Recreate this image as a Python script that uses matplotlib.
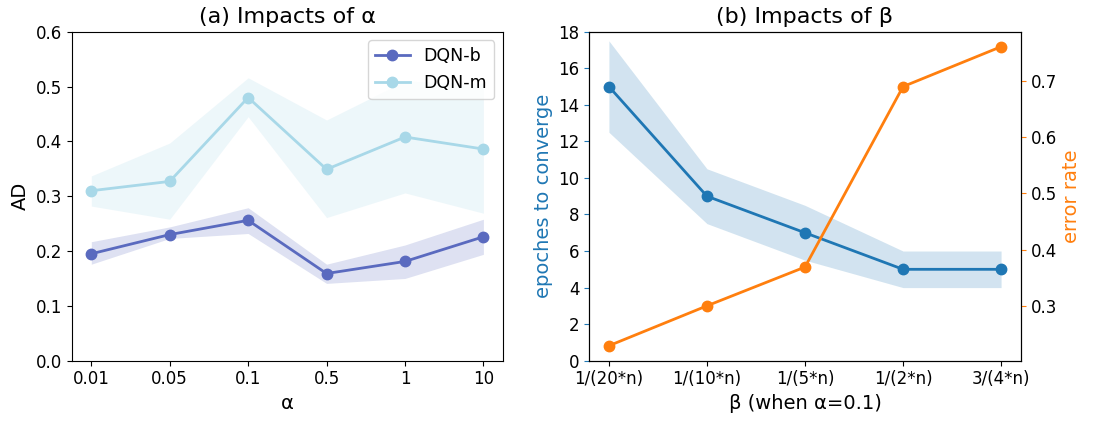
import matplotlib
matplotlib.use('Agg')
import matplotlib.pyplot as plt
import numpy as np

# (a) AD for different alpha
alpha_labels = ['0.01', '0.05', '0.1', '0.5', '1', '10']
dqn_b = [0.195, 0.230, 0.256, 0.159, 0.181, 0.226]
dqn_b_low = [0.176, 0.223, 0.232, 0.141, 0.150, 0.194]
dqn_b_high = [0.217, 0.244, 0.279, 0.176, 0.211, 0.258]
dqn_m = [0.310, 0.327, 0.480, 0.349, 0.408, 0.386]
dqn_m_low = [0.282, 0.258, 0.445, 0.261, 0.306, 0.269]
dqn_m_high = [0.337, 0.397, 0.516, 0.439, 0.510, 0.505]

# (b) convergence / error rate for different beta
beta_labels = ['1/(20*n)', '1/(10*n)', '1/(5*n)', '1/(2*n)', '3/(4*n)']
epochs = [15, 9, 7, 5, 5]
epochs_low = [12.5, 7.5, 5.5, 4, 4]
epochs_high = [17.5, 10.5, 8.5, 6, 6]
err_rate = [0.229, 0.300, 0.369, 0.690, 0.761]

c_b = '#5a6abf'
c_m = '#a8d8e8'
tick_fs = 12
label_fs = 14
title_fs = 16

fig = plt.figure(figsize=(10.98, 4.23), dpi=100)
ax1 = fig.add_axes([0.0653, 0.1473, 0.3928, 0.7777])
ax2 = fig.add_axes([0.5367, 0.1473, 0.3929, 0.7777])

x = np.arange(len(alpha_labels))
ax1.plot(x, dqn_b, marker='o', color=c_b, lw=2, ms=7.5, label='DQN-b')
ax1.fill_between(x, dqn_b_low, dqn_b_high, color=c_b, alpha=0.2, lw=0)
ax1.plot(x, dqn_m, marker='o', color=c_m, lw=2, ms=7.5, label='DQN-m')
ax1.fill_between(x, dqn_m_low, dqn_m_high, color=c_m, alpha=0.2, lw=0)
ax1.set_ylim(0, 0.6)
ax1.set_xticks(x)
ax1.set_xticklabels(alpha_labels)
ax1.tick_params(labelsize=tick_fs)
ax1.set_xlabel('α', fontsize=label_fs)
ax1.set_ylabel('AD', fontsize=label_fs)
ax1.set_title('(a) Impacts of α', fontsize=title_fs)
ax1.legend(loc='upper right', fontsize=12.5)

xb = np.arange(len(beta_labels))
ax2.plot(xb, epochs, marker='o', color='tab:blue', lw=2, ms=7.5)
ax2.fill_between(xb, epochs_low, epochs_high, color='tab:blue', alpha=0.2, lw=0)
ax2.set_ylim(0, 18)
ax2.set_xticks(xb)
ax2.set_xticklabels(beta_labels)
ax2.tick_params(labelsize=tick_fs)
ax2.tick_params(axis='y', colors='tab:blue', labelcolor='black')
ax2.set_ylabel('epoches to converge', color='tab:blue', fontsize=label_fs)
ax2.set_xlabel('β (when α=0.1)', fontsize=label_fs)
ax2.set_title('(b) Impacts of β', fontsize=title_fs)

ax3 = ax2.twinx()
ax3.plot(xb, err_rate, marker='o', color='tab:orange', lw=2, ms=7.5)
ax3.tick_params(labelsize=tick_fs)
ax3.tick_params(axis='y', colors='tab:orange', labelcolor='black')
ax3.set_ylabel('error rate', color='tab:orange', fontsize=label_fs)

plt.savefig('out.png', dpi=100)
